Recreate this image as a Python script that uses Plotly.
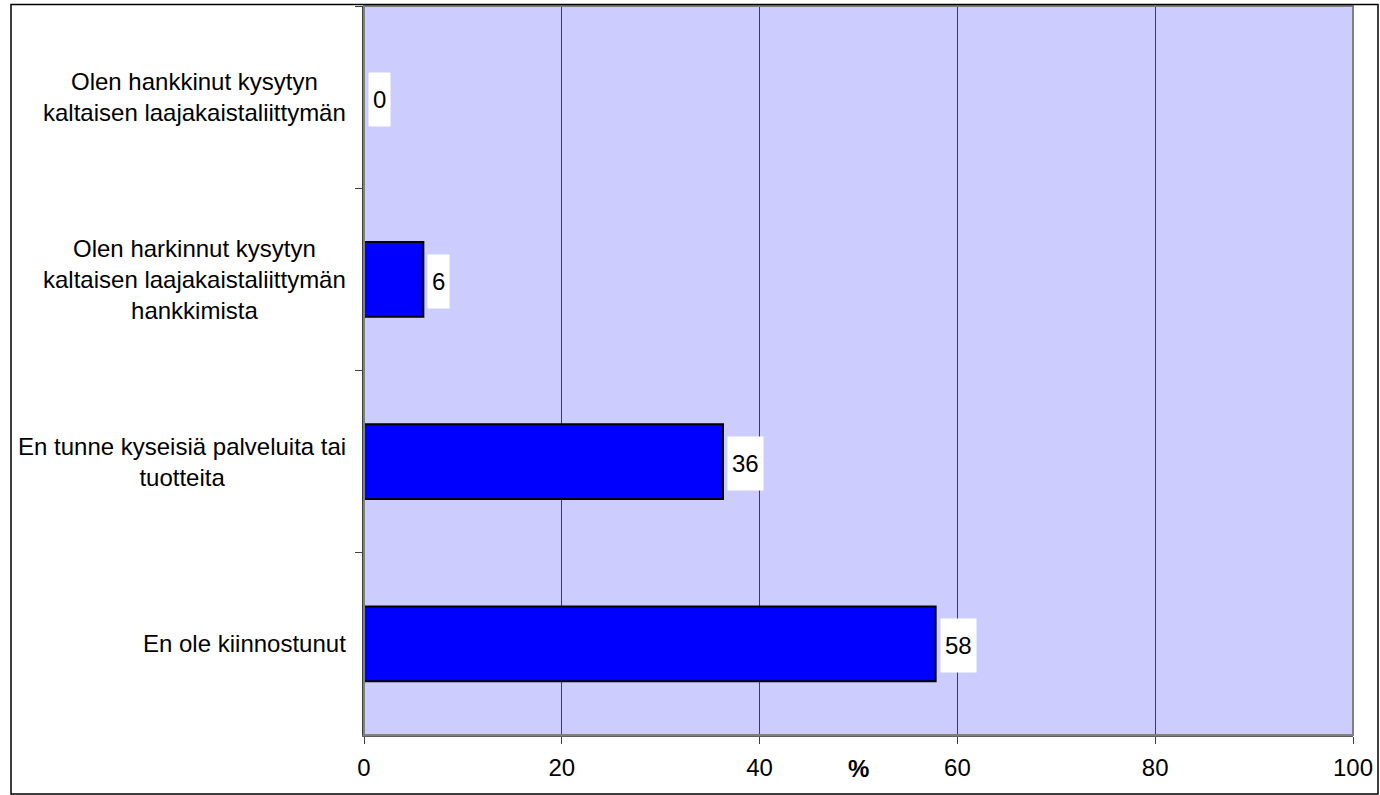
import plotly.graph_objects as go

categories = [
    "Olen hankkinut kysytyn<br>kaltaisen laajakaistaliittymän",
    "Olen harkinnut kysytyn<br>kaltaisen laajakaistaliittymän<br>hankkimista",
    "En tunne kyseisiä palveluita tai<br>tuotteita",
    "En ole kiinnostunut",
]
values = [0, 6.0, 36.3, 57.8]
x_ticks = [0, 20, 40, 60, 80, 100]
x_title = "%"

W, H = 1380, 795
L, R, T, B = 364, 27, 6, 60
FONT = "Liberation Sans, Arial, sans-serif"
pw = W - L - R
ph = H - T - B

fig = go.Figure()
fig.add_trace(go.Bar(
    x=values, y=categories, orientation="h", width=0.41,
    marker=dict(color="#0000FF", line=dict(color="black", width=2)),
    hoverinfo="x+y",
))

annotations = []
for c, v in zip(categories, values):
    annotations.append(dict(
        x=v, y=c, xref="x", yref="y", text=f"{v:.0f}", showarrow=False,
        xanchor="left", yanchor="middle", xshift=4, yshift=-2,
        bgcolor="white", borderpad=4, height=45,
        font=dict(family=FONT, size=24, color="black"),
    ))
    annotations.append(dict(
        x=0, y=c, xref="paper", yref="y", text=c, showarrow=False,
        xanchor="right", yanchor="middle", xshift=-16, align="center",
        font=dict(family=FONT, size=24, color="black"),
    ))
annotations.append(dict(
    x=50, y=0, xref="x", yref="paper", text=f"<b>{x_title}</b>", showarrow=False,
    xanchor="center", yanchor="middle", yshift=-33,
    font=dict(family=FONT, size=24, color="black"),
))

shapes = [
    dict(type="rect", xref="paper", yref="paper", x0=0, x1=1, y0=0, y1=1,
         line=dict(color="#808080", width=2), layer="above"),
    dict(type="rect", xref="paper", yref="paper",
         x0=(11 - L) / pw, x1=(1378 - L) / pw,
         y0=-(794 - (T + ph)) / ph,
         y1=1 + (T - 4.5) / ph,
         line=dict(color="black", width=1.5), layer="above"),
]

fig.update_layout(
    width=W, height=H,
    margin=dict(l=L, r=R, t=T, b=B, pad=0),
    paper_bgcolor="white", plot_bgcolor="#CCCCFF",
    showlegend=False,
    annotations=annotations, shapes=shapes,
    font=dict(family=FONT, size=24, color="black"),
    xaxis=dict(
        range=[0, 100], tickvals=x_ticks, ticktext=[str(t) for t in x_ticks],
        showgrid=True, gridcolor="#404040", gridwidth=1,
        zeroline=False, showline=True, linecolor="#606060", linewidth=2,
        ticks="outside", ticklen=7, tickcolor="#404040", tickwidth=1,
        ticklabelstandoff=3,
        tickfont=dict(family=FONT, size=24, color="black"),
        fixedrange=True,
    ),
    yaxis=dict(
        type="category", autorange="reversed", tickson="boundaries",
        showticklabels=False, showgrid=False, zeroline=False,
        showline=True, linecolor="#404040", linewidth=2,
        ticks="outside", ticklen=7, tickcolor="#404040", tickwidth=1,
        fixedrange=True,
    ),
    bargap=0.59,
)

fig.write_html(
    "out.html",
    config={"displayModeBar": False},
    post_script="document.body.style.margin='0';document.body.style.overflow='hidden';",
)
